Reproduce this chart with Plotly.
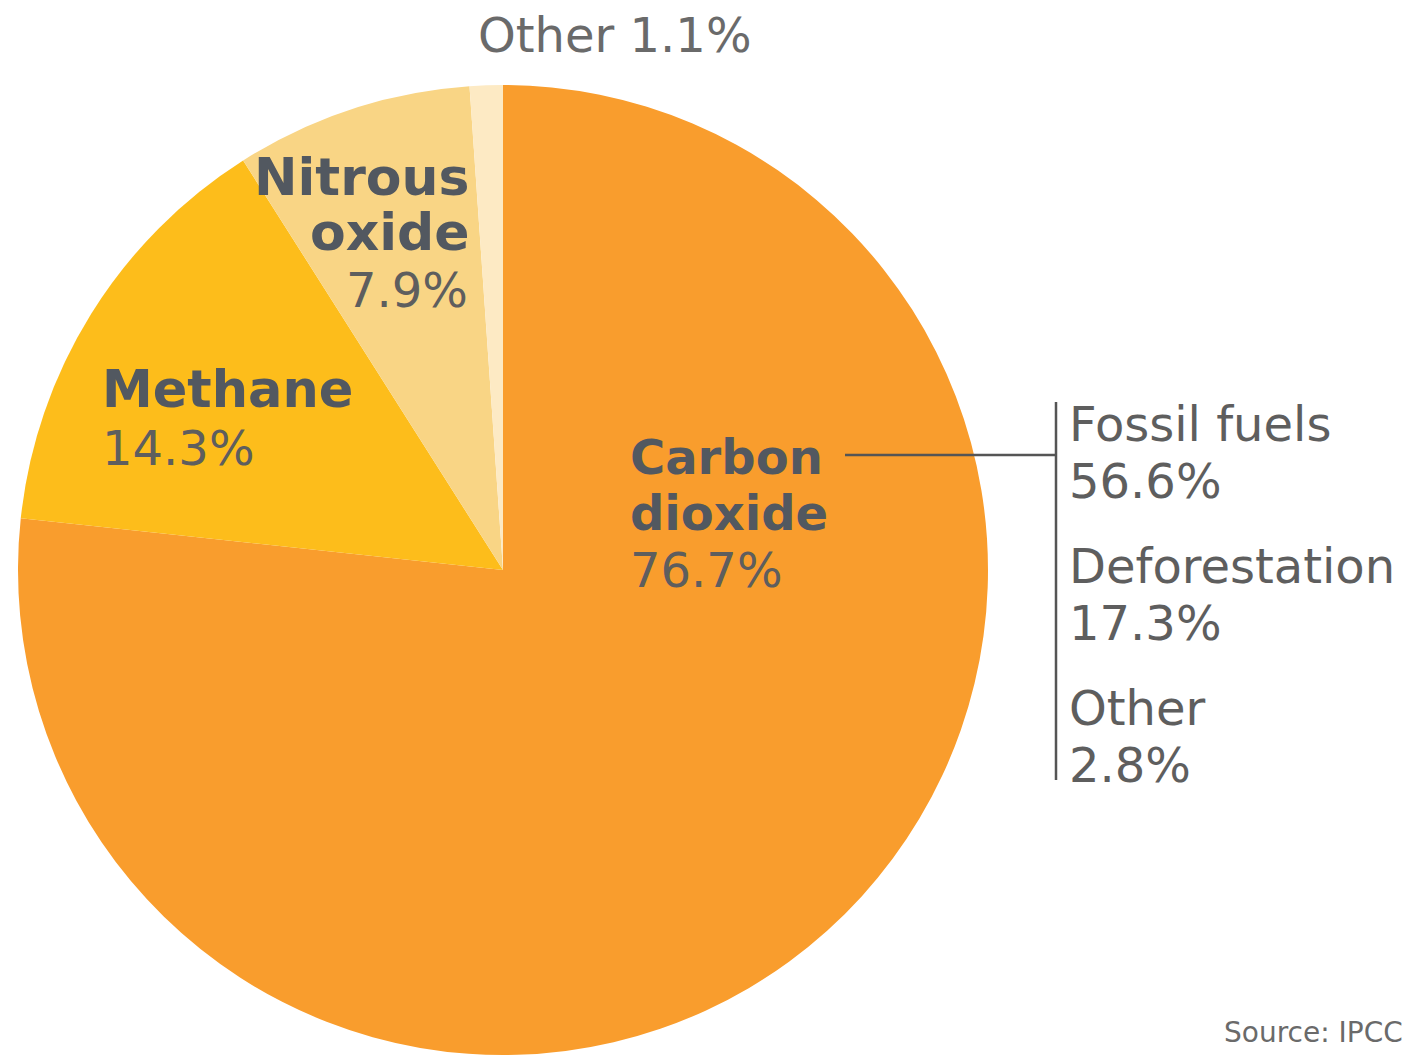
import plotly.graph_objects as go

W, H = 1412, 1055
OFF = 8  # page body margin offset

gases = ["Carbon dioxide", "Methane", "Nitrous oxide", "Other"]
shares = [76.7, 14.3, 7.9, 1.1]
colors = ["#F99D2D", "#FDBD1B", "#F9D585", "#FDEAC4"]

co2_sources = ["Fossil fuels", "Deforestation", "Other"]
co2_shares = [56.6, 17.3, 2.8]

DARK = "#525860"
MID = "#5e5e5e"
FONT = "DejaVu Sans"

def px(x):
    return (x - OFF) / W

def py(y):
    return 1 - (y - OFF) / H

fig = go.Figure(go.Pie(
    labels=gases, values=shares, sort=False, direction="clockwise", rotation=0,
    marker=dict(colors=colors, line=dict(width=0)),
    textinfo="none", showlegend=False,
    domain=dict(x=[px(18), px(988)], y=[py(1055), py(85)]),
))

def ann(text, x, y, anchor="left", bold=False, color=MID, size=48):
    fig.add_annotation(
        text=f"<b>{text}</b>" if bold else text,
        x=px(x), y=py(y), xref="paper", yref="paper",
        xanchor=anchor, yanchor="middle", showarrow=False,
        font=dict(family=FONT, size=size, color=color),
    )

ann(f"{gases[3]} {shares[3]}%", 615, 35, anchor="center", color="#6a6a6a")
ann("Nitrous", 472, 177, anchor="right", bold=True, color=DARK, size=52)
ann("oxide", 472, 232, anchor="right", bold=True, color=DARK, size=52)
ann(f"{shares[2]}%", 470, 290, anchor="right")
ann(gases[1], 100, 390, bold=True, color=DARK, size=51)
ann(f"{shares[1]}%", 100, 448)
ann("Carbon", 628, 457, bold=True, color=DARK, size=48)
ann("dioxide", 628, 513, bold=True, color=DARK, size=48)
ann(f"{shares[0]}%", 628, 570)

ys = [424, 566, 708]
for name, v, y in zip(co2_sources, co2_shares, ys):
    ann(name, 1067, y)
    ann(f"{v}%", 1067, y + 57)

ann("Source: IPCC", 1405, 1032, anchor="right", size=28, color="#6a6a6a")

line = dict(color="#555555", width=2.5)
fig.add_shape(type="line", xref="paper", yref="paper",
              x0=px(845), x1=px(1056), y0=py(455), y1=py(455), line=line)
fig.add_shape(type="line", xref="paper", yref="paper",
              x0=px(1056), x1=px(1056), y0=py(402), y1=py(780), line=line)

fig.update_layout(
    width=W, height=H, margin=dict(l=0, r=0, t=0, b=0),
    paper_bgcolor="white", plot_bgcolor="white",
    font=dict(family=FONT),
)
fig.write_html("out.html")
